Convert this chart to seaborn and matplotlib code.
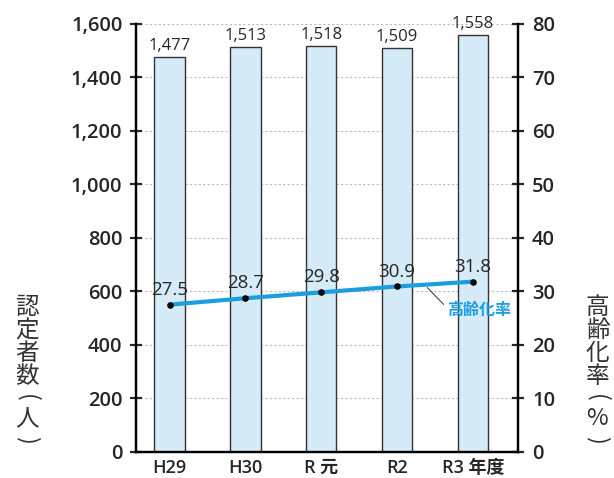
import seaborn as sns
import matplotlib.pyplot as plt
import pandas as pd
from matplotlib.ticker import FuncFormatter

years = ["H29", "H30", "R 元", "R2", "R3 年度"]
certified = [1477, 1513, 1518, 1509, 1558]
aging_rate = [27.5, 28.7, 29.8, 30.9, 31.8]
left_title = "認定者数（人）"
right_title = "高齢化率（%）"

sns.set_style("white")
plt.rcParams['font.family'] = ['Open Sans', 'Noto Sans CJK JP', 'DejaVu Sans']

df = pd.DataFrame({"year": years, "certified": certified, "rate": aging_rate})

fig, ax = plt.subplots(figsize=(6.14, 4.78), dpi=100)
fig.subplots_adjust(left=0.222, right=0.844, top=0.95, bottom=0.055)

sns.barplot(data=df, x="year", y="certified", ax=ax, width=0.4,
            color="#d5ebf8", edgecolor="#333333", linewidth=1.0, saturation=1, zorder=2)
ax.set_ylim(0, 1600)
ax.set_xlim(-0.44, 4.6)
ax.set_yticks(range(0, 1601, 200))
ax.yaxis.set_major_formatter(FuncFormatter(lambda v, p: f"{int(v):,}"))
ax.yaxis.grid(True, linestyle=(0, (2, 2)), color="#bbbbbb", linewidth=0.8, zorder=0)
ax.set_axisbelow(True)
ax.set(xlabel=None, ylabel=None)
for i, v in enumerate(certified):
    ax.text(i, v + 12, f"{v:,}", ha="center", va="bottom", fontsize=12)

ax2 = ax.twinx()
sns.lineplot(x=list(range(len(years))), y=aging_rate, ax=ax2, color="#1a9ee0",
             linewidth=3, zorder=3)
ax2.scatter(range(len(years)), aging_rate, color="black", s=14, zorder=4)
ax2.set_ylim(0, 80)
ax2.set_yticks(range(0, 81, 10))
for i, v in enumerate(aging_rate):
    ax2.text(i, v + 1.1, f"{v}", ha="center", va="bottom", fontsize=13.5)
ax2.annotate("高齢化率", xy=(3.4, 30.7), xytext=(3.66, 26.6), color="#1a9ee0",
             fontsize=11.5, ha="left", va="center", fontweight="bold",
             family=['Noto Sans CJK JP'],
             arrowprops=dict(arrowstyle="-", color="#333333", lw=0.7,
                             shrinkA=0, shrinkB=0, relpos=(0, 0.6)))

for a in (ax, ax2):
    a.spines["top"].set_visible(False)
    for s in ("left", "right", "bottom"):
        a.spines[s].set_linewidth(1.6)
        a.spines[s].set_color("black")
    a.tick_params(axis="y", direction="inout", length=8, width=1.6, labelsize=14.5, pad=6)
    for lab in a.get_yticklabels():
        lab.set_fontweight("semibold")
ax.tick_params(axis="x", length=0, labelsize=13, pad=5)
for lab in ax.get_xticklabels():
    lab.set_fontweight("semibold")


def vertical_title(x, top, text):
    # stack characters; brackets turned sideways like Japanese vertical writing
    y = top
    for ch in text:
        if ch in "（）":
            fig.text(x, y - 0.02, "(" if ch == "（" else ")", rotation=-90,
                     fontsize=17, ha="center", va="center", color="#333333",
                     family=['Noto Sans CJK JP'])
            y -= 0.04
        else:
            fig.text(x, y - 0.024, ch, fontsize=17, ha="center", va="center",
                     color="#333333", family=['Noto Sans CJK JP'])
            y -= 0.048


vertical_title(0.044, 0.38, left_title)
vertical_title(0.973, 0.38, right_title)

plt.savefig("out.png", dpi=100)
plt.close()
